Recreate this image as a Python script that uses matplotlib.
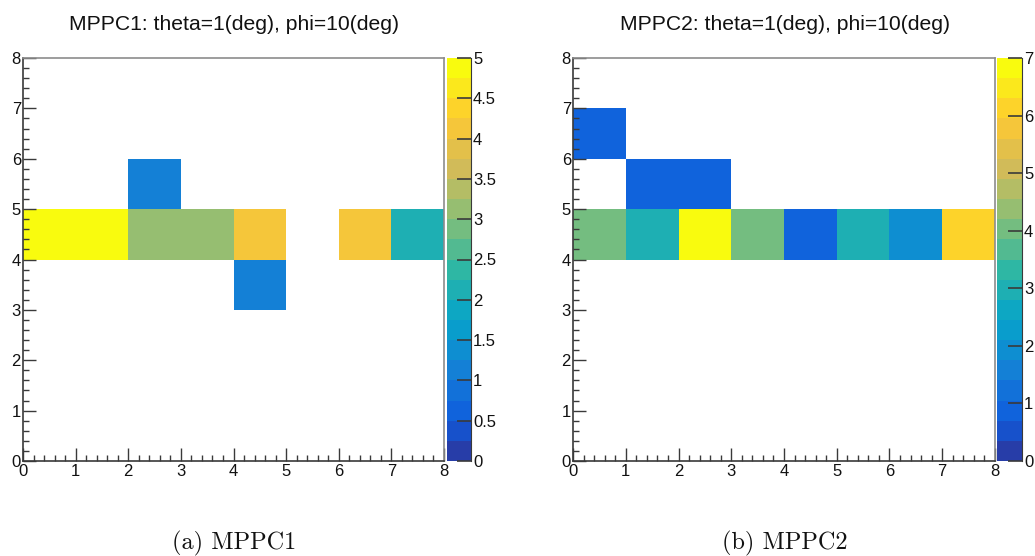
import numpy as np
import matplotlib
matplotlib.use("Agg")
import matplotlib.pyplot as plt
from matplotlib.colors import LinearSegmentedColormap, ListedColormap, Normalize
from matplotlib.ticker import MultipleLocator

# ---- data: hit counts per 8x8 pixel grid (x bin index, y bin index) ----
x_edges = np.arange(0, 9)
y_edges = np.arange(0, 9)

# MPPC1 non-empty bins
mppc1_x = [0, 1, 2, 3, 4, 6, 7, 2, 4]
mppc1_y = [4, 4, 4, 4, 4, 4, 4, 5, 3]
mppc1_z = [5, 5, 3, 3, 4, 4, 2, 1, 1]

# MPPC2 non-empty bins
mppc2_x = [0, 1, 2, 3, 4, 5, 6, 7, 1, 2, 0]
mppc2_y = [4, 4, 4, 4, 4, 4, 4, 4, 5, 5, 6]
mppc2_z = [4, 3, 7, 4, 1, 3, 2, 6, 1, 1, 1]

titles = ["MPPC1: theta=1(deg), phi=10(deg)", "MPPC2: theta=1(deg), phi=10(deg)"]
captions = ["(a) MPPC1", "(b) MPPC2"]
zmax_list = [5, 7]
cbar_ticks = [np.arange(0, 5.01, 0.5), np.arange(0, 7.01, 1)]
cbar_labels = [["0", "0.5", "1", "1.5", "2", "2.5", "3", "3.5", "4", "4.5", "5"],
               ["0", "1", "2", "3", "4", "5", "6", "7"]]

# ---- ROOT "kBird" palette, quantised into 20 contour levels ----
stops = [0.0000, 0.1250, 0.2500, 0.3750, 0.5000, 0.6250, 0.7500, 0.8750, 1.0000]
red = [0.2082, 0.0592, 0.0780, 0.0232, 0.1802, 0.5301, 0.8186, 0.9956, 0.9764]
green = [0.1664, 0.3599, 0.5041, 0.6419, 0.7178, 0.7492, 0.7328, 0.7862, 0.9832]
blue = [0.5293, 0.8684, 0.8385, 0.7914, 0.6425, 0.4662, 0.3499, 0.1968, 0.0539]
bird = LinearSegmentedColormap.from_list(
    "bird", list(zip(stops, zip(red, green, blue))), N=255)
ndiv = 20
ncol = 255
levels = [min(int((i + 0.99) * ncol / ndiv), ncol - 1) for i in range(ndiv)]
bird20 = ListedColormap([bird(l) for l in levels])

plt.rcParams["font.family"] = ["Liberation Sans", "DejaVu Sans"]

W, H = 1035, 556
fig = plt.figure(figsize=(W / 100, H / 100), dpi=100)


def px_axes(x0, y0, x1, y1):
    return fig.add_axes([x0 / W, 1 - y1 / H, (x1 - x0) / W, (y1 - y0) / H])


panels = [
    dict(ax=(23, 58, 444, 461), cb=(447, 58, 471, 461), title_x=234, cap_x=234,
         xs=mppc1_x, ys=mppc1_y, zs=mppc1_z),
    dict(ax=(573, 58, 995, 461), cb=(997, 58, 1022, 461), title_x=785, cap_x=785,
         xs=mppc2_x, ys=mppc2_y, zs=mppc2_z),
]

frame_col = "#8c8c8c"
axis_col = "#3a3a3a"
text_col = "#111111"
tick_fs = 12

for k, p in enumerate(panels):
    ax = px_axes(*p["ax"])
    grid = np.zeros((8, 8))
    for xi, yi, zi in zip(p["xs"], p["ys"], p["zs"]):
        grid[yi, xi] = zi
    data = np.ma.masked_equal(grid, 0)
    norm = Normalize(vmin=0, vmax=zmax_list[k])
    mesh = ax.pcolormesh(x_edges, y_edges, data, cmap=bird20, norm=norm)
    ax.set_xlim(0, 8)
    ax.set_ylim(0, 8)

    ax.xaxis.set_major_locator(MultipleLocator(1))
    ax.yaxis.set_major_locator(MultipleLocator(1))
    ax.xaxis.set_minor_locator(MultipleLocator(0.2))
    ax.yaxis.set_minor_locator(MultipleLocator(0.2))
    ax.tick_params(which="both", direction="in", top=False, right=False,
                   colors=axis_col, labelcolor=text_col, labelsize=tick_fs)
    ax.tick_params(which="major", length=9.5, width=1.0)
    ax.tick_params(which="minor", length=4.5, width=1.0)
    ax.tick_params(axis="x", pad=2.5)
    ax.tick_params(axis="y", pad=1.5)

    for side in ("top", "right"):
        ax.spines[side].set_color(frame_col)
        ax.spines[side].set_linewidth(1.2)
    for side in ("left", "bottom"):
        ax.spines[side].set_color(axis_col)
        ax.spines[side].set_linewidth(1.2)

    cax = px_axes(*p["cb"])
    cb = fig.colorbar(mesh, cax=cax, ticks=cbar_ticks[k])
    cb.outline.set_visible(False)
    cb.ax.set_yticklabels(cbar_labels[k])
    cax.spines["right"].set_visible(True)
    cax.spines["right"].set_color(axis_col)
    cax.tick_params(direction="in", length=10, width=1.2, colors=axis_col,
                    labelcolor=text_col, labelsize=tick_fs, pad=1.5)
    cax.minorticks_off()

    fig.text(p["title_x"] / W, 1 - 25 / H, titles[k], ha="center", va="center",
             fontsize=15.2, color=text_col)
    fig.text(p["cap_x"] / W, 1 - 543 / H, captions[k], ha="center", va="center",
             fontsize=17.5, family="cmr10", color=text_col)

fig.savefig("out.png", dpi=100)
